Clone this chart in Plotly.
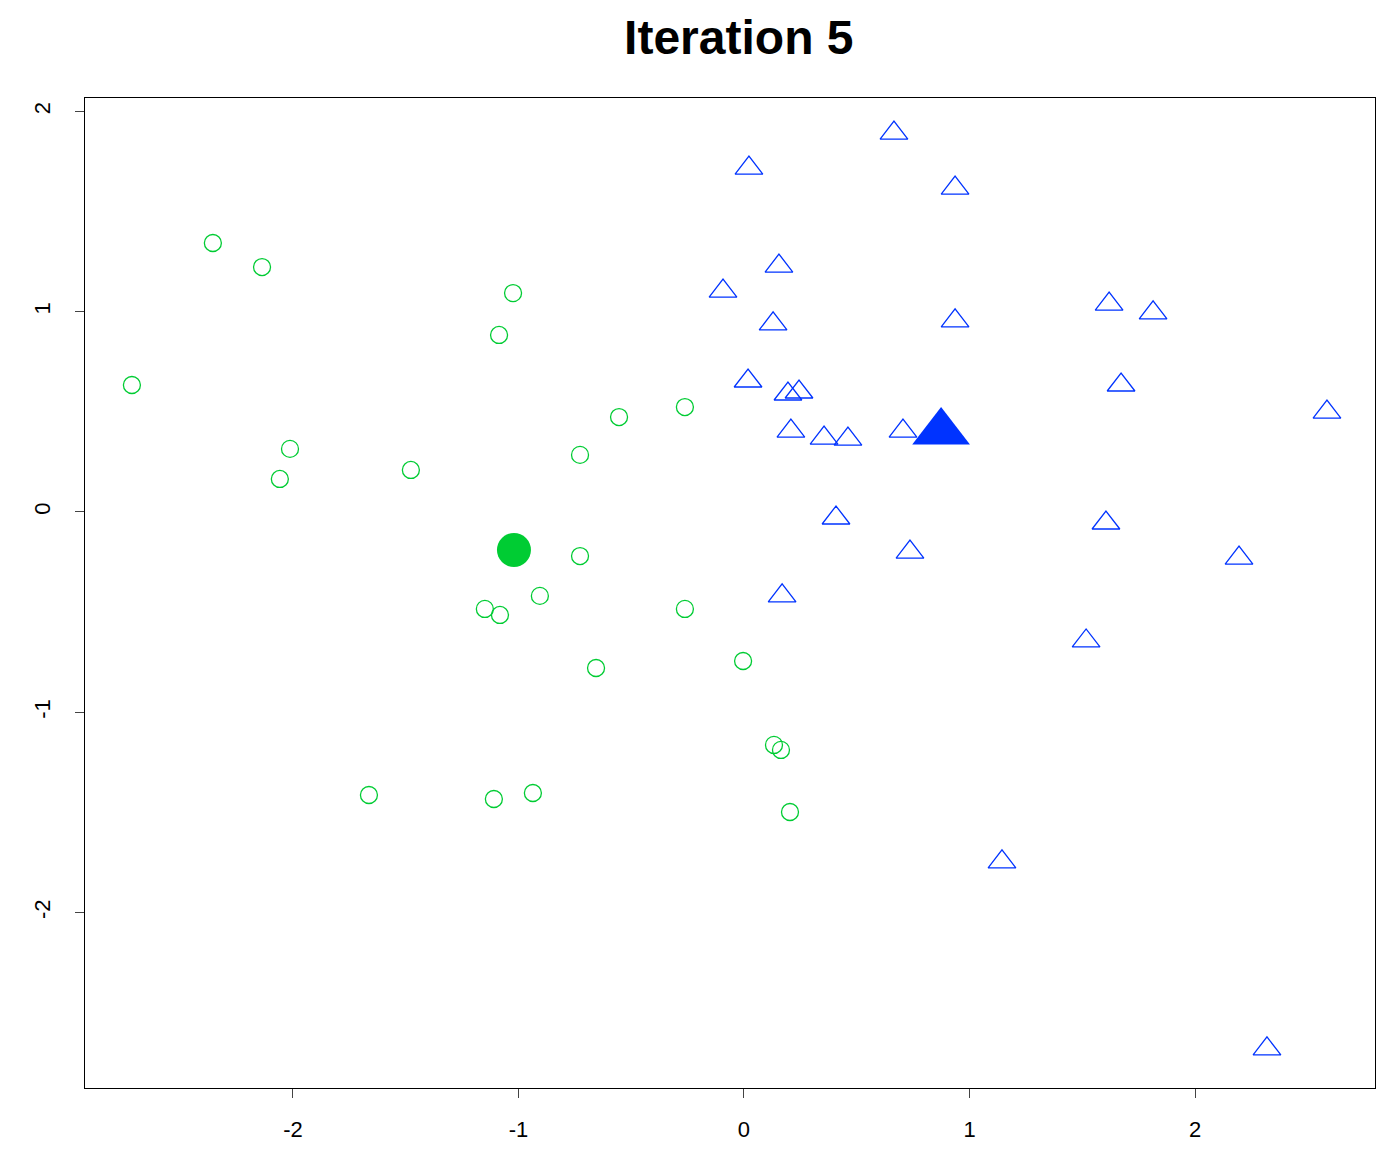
import plotly.graph_objects as go

green_x = [-2.355, -2.137, -1.024, -1.086, -2.714, -0.554, -0.262, -2.013, -1.477, -0.727, -2.058, -0.727,
           -0.905, -1.149, -1.082, -0.262, -0.656, -0.004, 0.133, 0.164, -1.663, -1.109, -0.936, 0.204]
green_y = [1.343, 1.223, 1.093, 0.884, 0.634, 0.474, 0.524, 0.315, 0.210, 0.285, 0.165, -0.220,
           -0.419, -0.484, -0.514, -0.484, -0.779, -0.744, -1.163, -1.188, -1.413, -1.433, -1.403, -1.498]
blue_x = [0.665, 0.022, 0.936, 0.155, -0.093, 0.129, 1.619, 1.814, 0.936, 0.018, 1.672, 0.195, 0.244,
          2.585, 0.208, 0.705, 0.355, 0.461, 0.408, 1.605, 0.736, 2.195, 0.169, 1.517, 1.144, 2.319]
blue_y = [1.892, 1.717, 1.617, 1.228, 1.103, 0.939, 1.038, 0.994, 0.954, 0.654, 0.634, 0.589, 0.599,
          0.499, 0.404, 0.404, 0.369, 0.364, -0.030, -0.055, -0.200, -0.230, -0.419, -0.644, -1.747, -2.681]
green_centroid = (-1.020, -0.190)
blue_centroid = (0.874, 0.399)
ticks = [-2, -1, 0, 1, 2]

GREEN = "#00CC33"
BLUE = "#0033FF"

fig = go.Figure()
fig.add_trace(go.Scatter(x=green_x, y=green_y, mode="markers",
                         marker=dict(symbol="circle-open", size=17, color=GREEN, line=dict(width=1.3))))
fig.add_trace(go.Scatter(x=blue_x, y=blue_y, mode="markers",
                         marker=dict(symbol="triangle-up-open", size=24, color=BLUE, line=dict(width=1.3))))
fig.add_trace(go.Scatter(x=[green_centroid[0]], y=[green_centroid[1]], mode="markers",
                         marker=dict(symbol="circle", size=34, color=GREEN)))
fig.add_trace(go.Scatter(x=[blue_centroid[0]], y=[blue_centroid[1]], mode="markers",
                         marker=dict(symbol="triangle-up", size=50, color=BLUE)))

axis_common = dict(tickvals=ticks, ticktext=[str(t) for t in ticks], ticks="outside", ticklen=9,
                   showgrid=False, zeroline=False, showline=True, mirror=True, linecolor="black",
                   linewidth=1.2, tickfont=dict(family="Liberation Sans, Arial", size=22, color="black"))
fig.update_layout(
    width=1392, height=1154, showlegend=False,
    plot_bgcolor="white", paper_bgcolor="white",
    margin=dict(l=77, r=25, t=90, b=74),
    title=dict(text="<b>Iteration 5</b>", x=0.525, xanchor="center", y=0.975, yanchor="middle",
               font=dict(family="Liberation Sans, Arial", size=48, color="black")),
    xaxis=dict(range=[-2.922, 2.798], ticklabelstandoff=12, **axis_common),
    yaxis=dict(range=[-2.876, 2.067], tickangle=-90, ticklabelstandoff=16, **axis_common),
)
fig.write_html("out.html")
